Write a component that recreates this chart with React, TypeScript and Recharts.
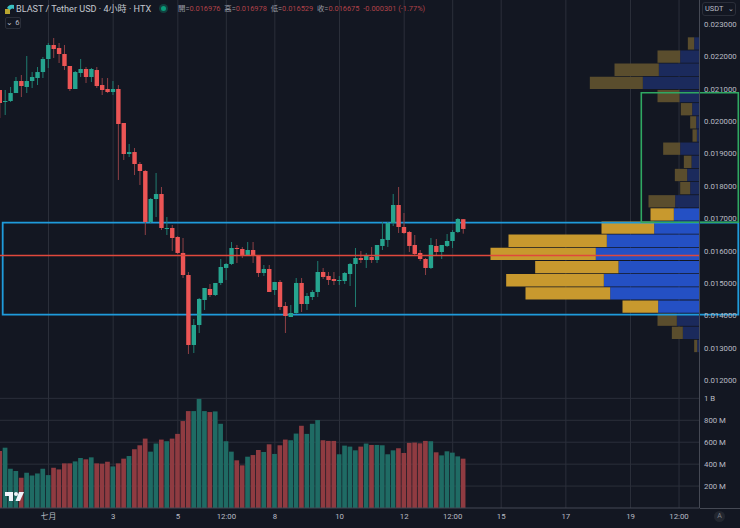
import React from "react";
import {
  ComposedChart, BarChart, Bar, XAxis, YAxis, CartesianGrid, ReferenceLine, ReferenceArea, Cell,
} from "recharts";

const opens = [0.020963,0.020593,0.020624,0.020870,0.021241,0.021056,0.021241,0.021333,0.021518,0.021920,0.022352,0.022259,0.022074,0.021704,0.020994,0.021488,0.021611,0.021364,0.021580,0.021117,0.020994,0.020901,0.020994,0.019945,0.018988,0.019049,0.018679,0.018463,0.016889,0.017599,0.017753,0.016689,0.016704,0.016426,0.015933,0.015253,0.013093,0.013710,0.014482,0.014821,0.014636,0.015007,0.015470,0.015593,0.016087,0.016056,0.015871,0.016025,0.015840,0.015315,0.015439,0.014790,0.015038,0.014297,0.013957,0.014080,0.015007,0.014358,0.014574,0.014729,0.015346,0.015223,0.015130,0.015084,0.015068,0.015284,0.015593,0.015778,0.015716,0.015809,0.015716,0.016149,0.016334,0.016858,0.017414,0.016735,0.016580,0.016179,0.015933,0.015747,0.015470,0.016149,0.015963,0.016149,0.016303,0.016581,0.016976];
const highs = [0.020963,0.020963,0.021056,0.021364,0.021426,0.022012,0.021518,0.021673,0.021981,0.022414,0.022568,0.022414,0.022352,0.021704,0.021549,0.021920,0.021673,0.021642,0.021673,0.021333,0.021333,0.021241,0.021117,0.019945,0.019297,0.019173,0.018741,0.018494,0.017630,0.018402,0.017969,0.017043,0.016797,0.016457,0.016395,0.015346,0.013896,0.014544,0.014852,0.014975,0.015007,0.015747,0.015624,0.016272,0.016179,0.016118,0.016272,0.016272,0.015840,0.015562,0.015562,0.015038,0.015099,0.014420,0.014327,0.015161,0.015161,0.014698,0.014790,0.015686,0.015470,0.015346,0.015346,0.015223,0.015346,0.015624,0.016087,0.015994,0.015933,0.016118,0.016179,0.016889,0.016889,0.017754,0.017969,0.017167,0.016612,0.016488,0.016025,0.015778,0.016395,0.016365,0.016179,0.016519,0.016642,0.017013,0.016978];
const lows = [0.020099,0.020192,0.020593,0.020870,0.020747,0.020870,0.021025,0.021117,0.021333,0.021642,0.021951,0.021796,0.021580,0.020932,0.020994,0.021364,0.021179,0.021210,0.021025,0.020808,0.020870,0.020808,0.018186,0.018803,0.018895,0.018339,0.018031,0.016488,0.016858,0.017043,0.016642,0.016488,0.015994,0.015902,0.015161,0.012815,0.012846,0.013463,0.014173,0.014574,0.014605,0.014945,0.015099,0.015562,0.015624,0.015778,0.015840,0.015624,0.015192,0.015223,0.014729,0.014636,0.014173,0.013463,0.013957,0.014050,0.014111,0.014173,0.014482,0.014574,0.015130,0.014945,0.014945,0.014945,0.014975,0.014914,0.014266,0.015624,0.015470,0.015624,0.015624,0.016025,0.016118,0.016766,0.016550,0.016519,0.015963,0.015871,0.015686,0.015253,0.015439,0.015840,0.015747,0.016118,0.016087,0.016550,0.016529];
const closes = [0.020562,0.020624,0.020870,0.021241,0.021086,0.021241,0.021364,0.021518,0.021920,0.022352,0.022228,0.022074,0.021704,0.020994,0.021518,0.021611,0.021364,0.021611,0.021086,0.020963,0.020901,0.020994,0.019914,0.018988,0.019049,0.018679,0.018463,0.016889,0.017599,0.017753,0.016704,0.016704,0.016395,0.015933,0.015253,0.013093,0.013710,0.014513,0.014852,0.014636,0.015007,0.015500,0.015593,0.016087,0.016056,0.015840,0.016025,0.015840,0.015315,0.015439,0.014729,0.015038,0.014266,0.013988,0.014080,0.015007,0.014358,0.014605,0.014729,0.015346,0.015192,0.015099,0.015068,0.015099,0.015315,0.015593,0.015778,0.015716,0.015840,0.015716,0.016179,0.016365,0.016858,0.017414,0.016735,0.016550,0.016149,0.015902,0.015747,0.015470,0.016179,0.015963,0.016179,0.016303,0.016581,0.016982,0.016675];
const volumesM = [520,550,358,337,275,321,297,315,358,300,367,352,407,407,425,456,444,462,407,404,422,379,407,450,474,536,572,633,514,588,624,609,633,676,793,884,884,995,884,875,881,768,609,514,435,389,468,483,529,511,581,493,572,624,618,679,750,676,768,802,618,612,612,490,569,560,526,560,588,575,575,572,490,526,545,502,594,597,590,612,609,508,480,517,505,471,450];

const timeTickIndex = [9,21,33,42,51,63,75,84,93,105,117,126];
const timeTickLabels = ["七月","3","5","12:00","8","10","12","12:00","15","17","19","12:00"];
const priceTicks = [0.012,0.013,0.014,0.015,0.016,0.017,0.018,0.019,0.02,0.021,0.022,0.023];
const volumeTicks = [200,400,600,800,1000];

// Visible-range volume profile, top row to bottom row
const profileLevels = [22387,21981,21575,21169,20763,20357,19951,19545,19139,18733,18327,17921,17515,17109,16703,16297,15891,15485,15079,14673,14267,13861,13455,13049];
const profileUp = [16,58,122,170,60,22,10,8,58,24,37,28,73,77,136,278,311,243,287,268,124,68,50,7];
const profileDown = [19,68,133,159,66,34,18,13,51,23,37,30,80,70,158,295,316,250,293,254,107,58,33,9];
const profileBright = [false,false,false,false,false,false,false,false,false,false,false,false,false,true,true,true,true,true,true,true,true,false,false,false];

const lastClose = 0.016675;
const pocPrice = 0.015855;
const blueBox = { x1: 0.5, x2: 137, y1: 0.014028, y2: 0.016868 };
const greenBox = { x1: 119, x2: 137, y1: 0.01688, y2: 0.02088 };

const candles = opens.map((o, i) => ({
  i, open: o, high: highs[i], low: lows[i], close: closes[i], range: [lows[i], highs[i]], volume: volumesM[i],
}));
const profile = profileLevels.map((level, i) => ({ level, up: profileUp[i], down: profileDown[i], bright: profileBright[i] }));

const W = 740;
const H = 528;
const AXIS_W = 40.5;
const PANE_H = 392;
const XDOMAIN: [number, number] = [0, 129.8];
const PDOMAIN: [number, number] = [0.011642, 0.023741];
const VDOMAIN: [number, number] = [0, 1058];

const BG = "#131722";
const GRID = "#2b2f3a";
const AXIS = "#454954";
const TXT = "#b8bbc4";
const UP = "#26a48f";
const DOWN = "#ec5555";
const FONT = "Roboto, 'Noto Sans CJK TC', sans-serif";

const layer: React.CSSProperties = { position: "absolute", left: 0, top: 0 };
const tickStyle = { fill: TXT, fontSize: 7.8, fontFamily: FONT };

function Candle(props: any) {
  const { x, y, width, height, payload } = props;
  if (!payload) return null;
  const span = payload.high - payload.low || 1e-9;
  const toY = (p: number) => y + ((payload.high - p) / span) * height;
  const top = toY(Math.max(payload.open, payload.close));
  const bot = toY(Math.min(payload.open, payload.close));
  const cx = x + width / 2;
  const up = payload.close >= payload.open;
  const color = up ? UP : DOWN;
  return (
    <g>
      <line x1={cx} x2={cx} y1={y} y2={y + height} stroke={up ? "#1f7d70" : "#8e4046"} strokeWidth={1} />
      <rect x={cx - 2.2} y={top} width={4.4} height={Math.max(bot - top, 1)} fill={color} />
    </g>
  );
}

const timeLabel = (v: number) => timeTickLabels[timeTickIndex.indexOf(v)] ?? "";
const volLabel = (v: number) => (v === 1000 ? "1\u00A0B" : `${v}\u00A0M`);
const priceLabel = (v: number) => v.toFixed(6);

export default function App() {
  const mHidden = { top: 0, right: AXIS_W, bottom: H - PANE_H, left: 0 };
  const mAxis = { top: 0, right: 0, bottom: H - PANE_H, left: 0 };
  return (
    <div style={{ position: "absolute", left: 0, top: 0, width: W, height: H, background: BG, overflow: "hidden", fontFamily: FONT }}>
      {/* grid and last-price line: below the profile */}
      <div style={layer}>
        <ComposedChart width={W} height={H} data={candles} margin={mHidden}>
          <CartesianGrid stroke={GRID} strokeWidth={1} syncWithTicks />
          <XAxis type="number" dataKey="i" domain={XDOMAIN} ticks={timeTickIndex} interval={0} hide />
          <YAxis orientation="right" type="number" domain={PDOMAIN} ticks={priceTicks} interval={0} width={AXIS_W} hide />
          <ReferenceLine y={lastClose} stroke="#7a2f3c" strokeWidth={1} strokeDasharray="2 2" />
        </ComposedChart>
      </div>

      {/* visible-range volume profile */}
      <div style={layer}>
        <BarChart width={W} height={H} data={profile} layout="vertical"
          margin={{ top: 37.3, right: AXIS_W, bottom: H - 353, left: 0 }} barCategoryGap={0}>
          <XAxis type="number" domain={[0, 2098.5]} reversed hide />
          <YAxis type="category" dataKey="level" hide />
          <Bar dataKey="up" stackId="p" barSize={12.3} isAnimationActive={false}>
            {profile.map((r, i) => <Cell key={i} fill={r.bright ? "#2450c4" : "#1b2a5c"} />)}
          </Bar>
          <Bar dataKey="down" stackId="p" barSize={12.3} isAnimationActive={false}>
            {profile.map((r, i) => <Cell key={i} fill={r.bright ? "#c8992e" : "#5a4d2d"} />)}
          </Bar>
        </BarChart>
      </div>

      {/* candles, price axis and drawings */}
      <div style={layer}>
        <ComposedChart width={W} height={H} data={candles} margin={mAxis}>
          <XAxis type="number" dataKey="i" domain={XDOMAIN} ticks={timeTickIndex} hide />
          <YAxis orientation="right" type="number" domain={PDOMAIN} ticks={priceTicks} width={AXIS_W} interval={0}
            tickFormatter={priceLabel} tick={tickStyle} tickLine={false} tickSize={0} tickMargin={4.5}
            axisLine={{ stroke: AXIS }} />
          <Bar dataKey="range" barSize={5} shape={Candle} isAnimationActive={false} />
          <ReferenceLine y={pocPrice} stroke="#e0483c" strokeWidth={1.5} />
          <ReferenceArea x1={blueBox.x1} x2={blueBox.x2} y1={blueBox.y1} y2={blueBox.y2} ifOverflow="visible"
            fill="none" fillOpacity={0} stroke="#1f9bdb" strokeWidth={1.8} />
          <ReferenceArea x1={greenBox.x1} x2={greenBox.x2} y1={greenBox.y1} y2={greenBox.y2} ifOverflow="visible"
            fill="none" fillOpacity={0} stroke="#2fa862" strokeWidth={1.6} />
        </ComposedChart>
      </div>

      {/* volume pane and time axis */}
      <div style={{ ...layer, top: PANE_H }}>
        <ComposedChart width={W} height={H - PANE_H} data={candles} margin={{ top: 0, right: 0, bottom: 0, left: 0 }}>
          <CartesianGrid stroke={GRID} strokeWidth={1} syncWithTicks />
          <XAxis type="number" dataKey="i" domain={XDOMAIN} ticks={timeTickIndex} interval={0}
            tickFormatter={timeLabel} tick={tickStyle} tickLine={false} tickSize={0} tickMargin={5} height={20}
            axisLine={{ stroke: AXIS }} />
          <YAxis orientation="right" type="number" domain={VDOMAIN} ticks={volumeTicks} width={AXIS_W} interval={0}
            tickFormatter={volLabel} tick={tickStyle} tickLine={false} tickSize={0} tickMargin={4.5}
            axisLine={{ stroke: AXIS }} />
          <Bar dataKey="volume" barSize={4.7} isAnimationActive={false}>
            {candles.map((c, i) => <Cell key={i} fill={c.close >= c.open ? "#1f6b64" : "#8f3b41"} />)}
          </Bar>
        </ComposedChart>
      </div>
      <div style={{ position: "absolute", left: 699.5, top: 508, width: 40.5, height: 1, background: AXIS }} />

      {/* header legend */}
      <svg width={12} height={12} style={{ position: "absolute", left: 4, top: 3 }}>
        <rect x={1} y={6} width={5} height={5} fill="#b9a530" />
        <path d="M3 5 A6 6 0 0 1 10 2 L10 6 A3 3 0 0 0 6 7 Z" fill="#3cc2c4" />
      </svg>
      <div style={{ position: "absolute", left: 16, top: 2, fontSize: 9.1, color: "#c4c7cf", whiteSpace: "nowrap", lineHeight: "14px" }}>
        BLAST / Tether USD · 4小時 · HTX
      </div>
      <div style={{ position: "absolute", left: 161, top: 6, width: 5, height: 5, borderRadius: 3, background: "#0a9c7a", boxShadow: "0 0 0 2px #12403e" }} />
      <div style={{ position: "absolute", left: 178, top: 3, fontSize: 7.4, whiteSpace: "nowrap", lineHeight: "12px", color: "#b04249" }}>
        <span style={{ color: "#9a9da6" }}>開=</span>0.016976 <span style={{ color: "#9a9da6", marginLeft: 2 }}>高=</span>0.016978{" "}
        <span style={{ color: "#9a9da6", marginLeft: 2 }}>低=</span>0.016529 <span style={{ color: "#9a9da6", marginLeft: 2 }}>收=</span>0.016675{" "}
        <span style={{ marginLeft: 2 }}>-0.000301 (-1.77%)</span>
      </div>
      <div style={{ position: "absolute", left: 5, top: 17, width: 16, height: 12, boxSizing: "border-box", border: "1px solid #2a2e39", borderRadius: 2, fontSize: 7.5, lineHeight: "10px", color: "#b8bbc4", textAlign: "center", whiteSpace: "nowrap" }}>
        ⌄ 6
      </div>
      <div style={{ position: "absolute", left: 702, top: 2, width: 34, height: 14, boxSizing: "border-box", border: "1px solid #2a2e39", borderRadius: 3, fontSize: 7.4, lineHeight: "12px", color: "#b8bbc4", paddingLeft: 2, whiteSpace: "nowrap" }}>
        USDT <span style={{ marginLeft: 3 }}>⌄</span>
      </div>

      {/* TradingView mark */}
      <svg width={20} height={12} style={{ position: "absolute", left: 5, top: 491 }}>
        <path d="M0 1 H8 V10 H4 V5 H0 Z" fill="#f0f3fa" />
        <circle cx={11} cy={3} r={2} fill="#f0f3fa" />
        <path d="M14 1 H19 L15 10 H10.5 Z" fill="#f0f3fa" />
      </svg>

      {/* auto-scale button */}
      <div style={{ position: "absolute", left: 714, top: 511, width: 11, height: 11, borderRadius: 6, background: "#22262f", fontSize: 7, lineHeight: "11px", textAlign: "center", color: "#7c7f88" }}>A</div>
    </div>
  );
}
